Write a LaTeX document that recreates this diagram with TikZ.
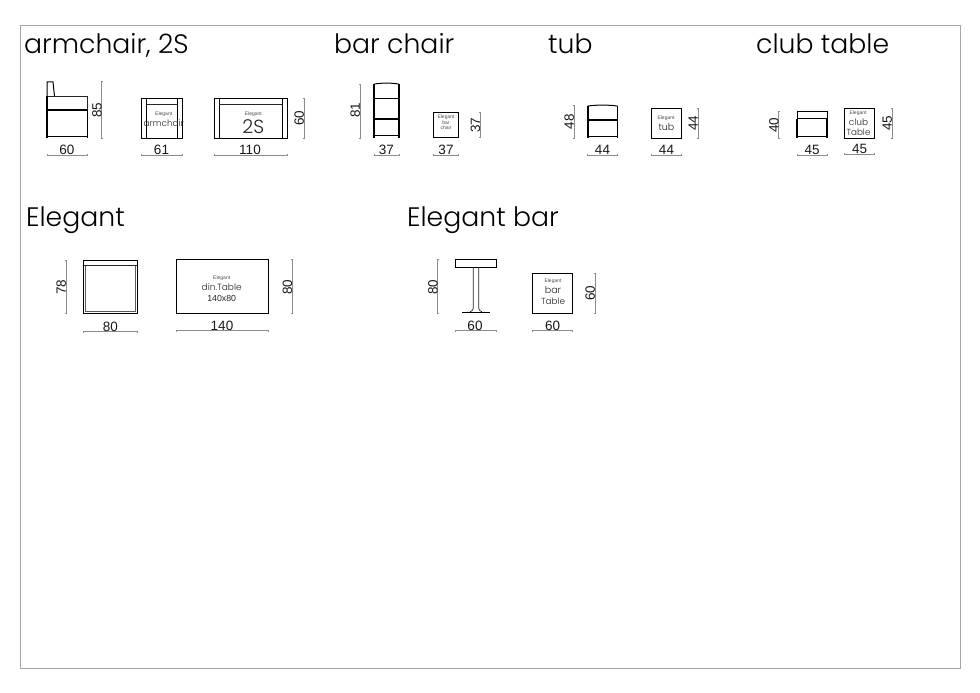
\documentclass[tikz,border=0pt]{standalone}
\usepackage{fontspec}
\setmainfont{Liberation Sans}
\newfontfamily\ttlfont{Poppins Light}
\newcounter{lbl}
\tikzset{x=1pt,y=-1pt,
 frameline/.style={draw=black!35,line width=0.8pt},
 outline/.style={draw=black,line width=1pt},
 thin outline/.style={draw=black!85,line width=0.7pt},
 heavy/.style={draw=black,line width=1.5pt},
 dimline/.style={draw=black!45,line width=0.45pt},
 lab/.style={inner sep=0pt,text=black!90,font=\fontsize{13.5}{14}\selectfont},
 title/.style={inner sep=0pt,anchor=base west,font=\ttlfont\fontsize{26.7}{28}\selectfont},
 tiny/.style={inner sep=0pt,text=black!70,font=\fontsize{5}{5.5}\selectfont},
 word/.style={inner sep=0pt,text=black!85,font=\ttlfont\fontsize{#1}{#1}\selectfont},
 arial/.style={inner sep=0pt,text=black!85,font=\fontsize{#1}{#1}\selectfont}}
% #1 x1, #2 x2, #3 line y, #4 label x, #5 label
\newcommand{\hdimn}[5]{%
 \draw[dimline] (#1,#3)--(#2,#3) (#1,#3-1)--(#1,#3+1) (#2,#3-1)--(#2,#3+1);
 \stepcounter{lbl}\node[lab,name=d\thelbl] at (#4,#3-5.2) {#5};}
% #1 y1, #2 y2, #3 line x, #4 label y, #5 label
\newcommand{\vdimn}[5]{%
 \draw[dimline] (#3,#1)--(#3,#2) (#3-1,#1)--(#3+1,#1) (#3-1,#2)--(#3+1,#2);
 \stepcounter{lbl}\node[lab,rotate=90,name=d\thelbl] at (#3-4.8,#4) {#5};}
\newcommand{\txt}[4]{\stepcounter{lbl}\node[#1,name=t\thelbl] at (#2,#3) {#4};}
\begin{document}
\begin{tikzpicture}
\useasboundingbox (0,0) rectangle (980,693);
\fill[white] (0,0) rectangle (980,693);
\draw[frameline] (20,25) rectangle (960,668);
% titles
\txt{title}{24}{54}{armchair, 2S}
\txt{title}{334}{54}{bar chair}
\txt{title}{548}{54}{tub}
\txt{title}{756}{54}{club table}
\txt{title}{26}{226}{Elegant}
\txt{title}{407}{226}{Elegant bar}
% armchair side
\draw[outline] (47,96)--(47,82)--(53,82)--(54.5,96);
\draw[thin outline] (47,96)--(87.3,96) (87.3,96)--(87.3,110);
\draw[heavy,line width=1.2pt] (47,110)--(87.3,110);
\draw[heavy] (47,96)--(47,138.3) (87.3,110)--(87.3,138.3);
\draw[outline] (47,136.5)--(87.3,136.5);
\vdimn{81.7}{138.3}{101.7}{110}{85}
\hdimn{47}{87.3}{155}{67}{60}
% armchair front
\draw[outline] (141.3,98) rectangle (182.3,138.3);
\draw[outline] (146.7,98)--(146.7,138.3) (177.3,98)--(177.3,138.3);
\draw[thin outline] (146.7,104.3)--(177.3,104.3);
\txt{tiny}{163.7}{114}{Elegant}
\txt{word=8.8}{163.7}{123}{armchair}
\hdimn{141.3}{182.3}{155}{161.5}{61}
% 2S
\draw[outline] (214,98) rectangle (287,138.3);
\draw[outline] (219,98)--(219,138.3) (282.3,98)--(282.3,138.3);
\draw[thin outline] (219,104.3)--(282.3,104.3);
\txt{tiny}{253.3}{114}{Elegant}
\txt{word=19}{253.3}{127}{2S}
\vdimn{98}{138.3}{304}{118}{60}
\hdimn{214}{287}{155}{250}{110}
% bar chair
\draw[outline] (374.5,84) .. controls (382,82.8) and (391,82.8) .. (398.5,84);
\draw[heavy] (374.2,84)--(374.2,138.3) (398.8,84)--(398.8,138.3);
\draw[heavy] (374.2,98.3)--(398.8,98.3) (374.2,119)--(398.8,119);
\draw[outline] (374.2,135.5)--(398.8,135.5);
\vdimn{84}{138.3}{360}{110}{81}
\hdimn{374}{399}{155}{386.3}{37}
% bar chair top
\draw[heavy,line width=1.1pt] (433.7,112.3) rectangle (458.7,137.3);
\txt{tiny}{446}{117}{Elegant}
\txt{tiny}{446}{122.7}{bar}
\txt{tiny}{446}{128}{chair}
\vdimn{112.3}{137.3}{480.3}{125}{37}
\hdimn{433.7}{458.7}{155}{446}{37}
% tub
\draw[outline] (588,106) .. controls (596,104.8) and (609,104.8) .. (617.3,106);
\draw[heavy] (588,105.5)--(588,138.3) (617.3,105.5)--(617.3,138.3);
\draw[heavy] (588,120)--(617.3,120);
\draw[outline] (588,136)--(617.3,136);
\vdimn{105.3}{138.3}{574}{121.7}{48}
\hdimn{587.7}{617.7}{155}{602.5}{44}
% tub top
\draw[heavy,line width=1.1pt] (651.7,108.7) rectangle (681.7,138.3);
\txt{tiny}{666}{118}{Elegant}
\txt{word=9.5}{666.5}{127}{tub}
\vdimn{108.7}{138.3}{698}{123}{44}
\hdimn{651.7}{681.7}{155}{666.5}{44}
% club
\draw[outline] (797,111.3) rectangle (827,118.7);
\draw[heavy] (797,118.7)--(797,138.3) (827,118.7)--(827,138.3) (797,118.7)--(827,118.7);
\draw[outline] (797,136.8)--(827,136.8);
\vdimn{111.3}{138.3}{778.7}{125}{40}
\hdimn{797}{827}{155}{812}{45}
% club top
\draw[outline] (844.3,108) rectangle (874.7,138.3);
\txt{tiny}{858}{113}{Elegant}
\txt{word=9}{858.5}{122}{club}
\txt{word=8.8}{858.5}{132.5}{Table}
\vdimn{108}{138.3}{892}{123}{45}
\hdimn{844.3}{874.7}{154.3}{859.5}{45}
% Elegant dining side
\draw[outline] (83.7,260.7) rectangle (137,313.3);
\draw[thin outline] (83.7,265.7)--(137,265.7);
\draw[heavy,black!65,line width=1.2pt] (85.5,265.7)--(85.5,312) (135.2,265.7)--(135.2,312);
\draw[heavy,black!65,line width=1.2pt] (85,311.5)--(136,311.5);
\vdimn{260.7}{313.3}{66}{287}{78}
\hdimn{83.7}{137}{331.7}{110.3}{80}
% din table
\draw[outline] (176,259.7) rectangle (268.7,313.3);
\txt{tiny}{221.7}{278}{Elegant}
\txt{word=9}{221.7}{287}{din.Table}
\txt{arial=8.8}{221.7}{298}{140x80}
\vdimn{259.7}{313.3}{292.3}{287}{80}
\hdimn{176}{268.7}{330.7}{222}{140}
% bar table side
\draw[outline] (455.7,259.7) rectangle (496,267);
\draw[thin outline] (473.3,267) -- (473.3,308) .. controls (473.3,310) and (472,311) .. (470,312);
\draw[thin outline] (478.7,267) -- (478.7,308) .. controls (478.7,310) and (480,311) .. (482,312);
\draw[heavy,line width=1.3pt] (462,312.5)--(489.7,312.5);
\vdimn{259.7}{313.3}{437.7}{287}{80}
\hdimn{455.7}{496}{330.7}{475}{60}
% bar table top
\draw[outline] (532.7,273) rectangle (572.7,313);
\txt{tiny}{553}{281}{Elegant}
\txt{word=9.5}{553}{290.3}{bar}
\txt{word=8.8}{553}{301}{Table}
\vdimn{273}{313}{595}{293}{60}
\hdimn{532.7}{572.7}{330.7}{552.7}{60}
\end{tikzpicture}
\end{document}
